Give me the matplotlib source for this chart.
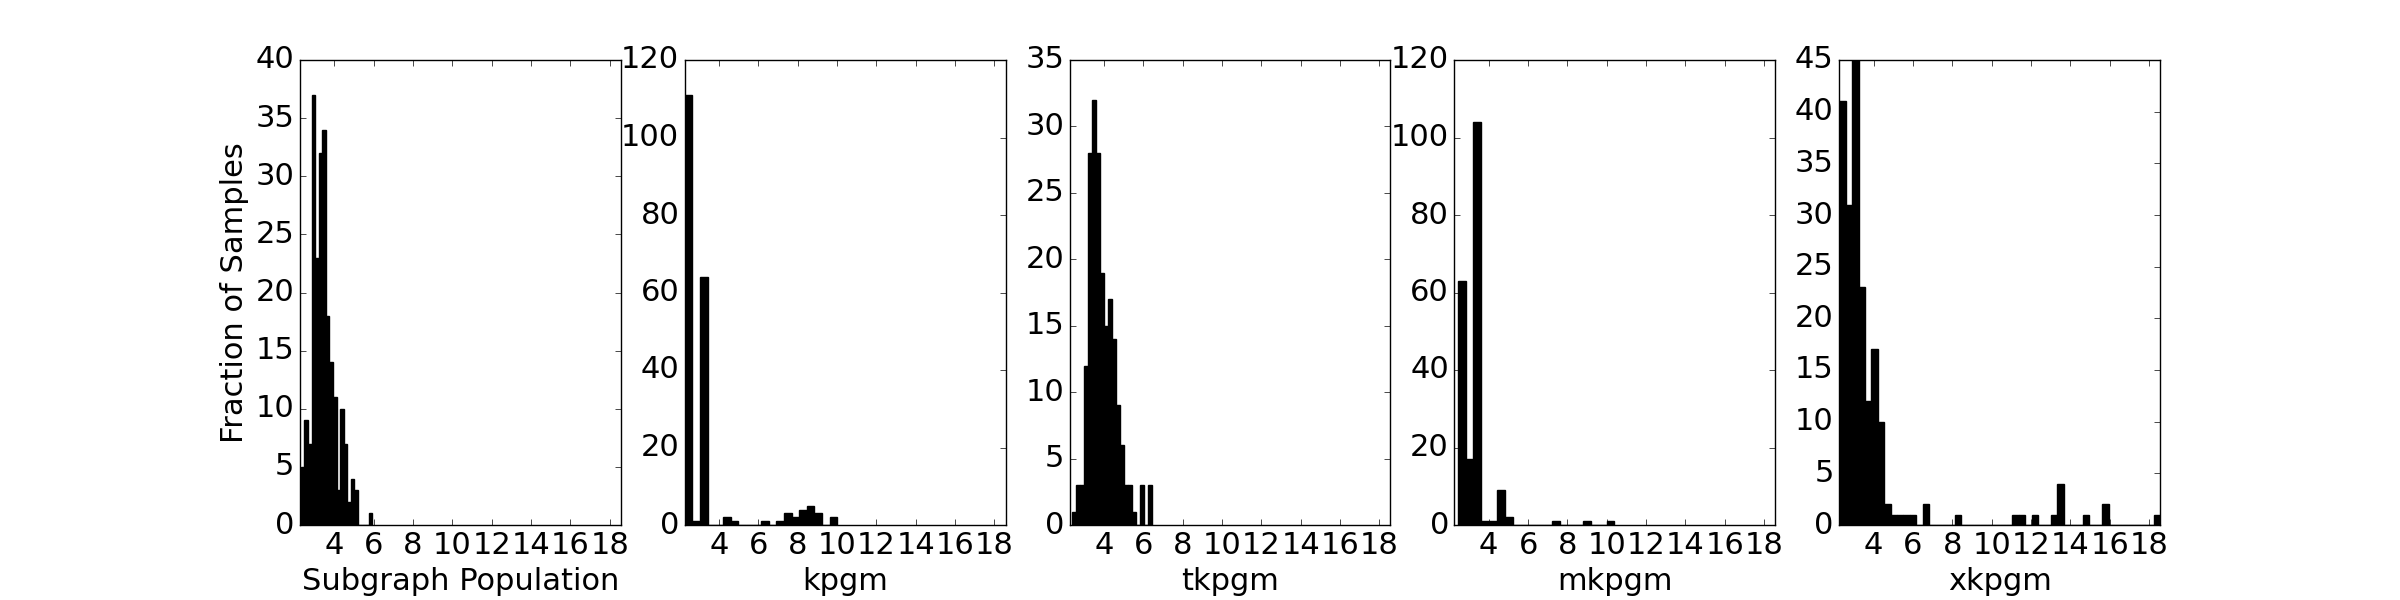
import numpy as np
import matplotlib
matplotlib.use("Agg")
import matplotlib.pyplot as plt

# x labels of the five panels
x_labels = ["Subgraph Population", "kpgm", "tkpgm", "mkpgm", "xkpgm"]

# histogram bins (left edge of first bin, bin width)
bin_start = [2.30, 2.26, 2.38, 2.43, 2.26]
bin_width = [0.182, 0.3875, 0.204, 0.398, 0.326]

# counts per bin
counts_subgraph = [5, 9, 7, 37, 23, 32, 34, 18, 14, 11, 3, 10, 7, 2, 4, 3, 0, 0, 0, 1]
counts_kpgm = [111, 1, 64, 0, 0, 2, 1, 0, 0, 0, 1, 0, 1, 3, 2, 4, 5, 3, 0, 2]
counts_tkpgm = [1, 3, 3, 12, 28, 32, 28, 19, 15, 17, 14, 9, 6, 3, 3, 1, 0, 3, 0, 3]
counts_mkpgm = [63, 17, 104, 1, 1, 9, 2, 0, 0, 0, 0, 0, 1, 0, 0, 0, 1, 0, 0, 1]
counts_xkpgm = [41, 31, 45, 23, 12, 17, 10, 2, 1, 1, 1, 1, 0, 2, 0, 0, 0, 0, 1, 0,
                0, 0, 0, 0, 0, 0, 0, 1, 1, 0, 1, 0, 0, 1, 4, 0, 0, 0, 1, 0,
                0, 2, 0, 0, 0, 0, 0, 0, 0, 1]
all_counts = [counts_subgraph, counts_kpgm, counts_tkpgm, counts_mkpgm, counts_xkpgm]

# axis ticks
y_max = [40, 120, 35, 120, 45]
y_step = [5, 20, 5, 20, 5]
x_ticks = [4, 6, 8, 10, 12, 14, 16, 18]

plt.style.use("classic")
plt.rcParams["figure.facecolor"] = "white"
plt.rcParams["font.size"] = 22

fig, axes = plt.subplots(1, 5, figsize=(24, 6), dpi=100, sharex=True)
fig.subplots_adjust(left=0.125, right=0.9, top=0.9, bottom=0.125, wspace=0.2)

for i, ax in enumerate(axes):
    counts = np.array(all_counts[i], dtype=float)
    edges = bin_start[i] + bin_width[i] * np.arange(len(counts) + 1)
    centers = (edges[:-1] + edges[1:]) / 2
    ax.hist(centers, bins=edges, weights=counts, color="k", edgecolor="k")
    ax.set_ylim(0, y_max[i])
    ax.set_yticks(np.arange(0, y_max[i] + 1, y_step[i]))
    ax.set_xticks(x_ticks)
    ax.set_xlabel(x_labels[i])

axes[0].set_ylabel("Fraction of Samples")

fig.savefig("out.png", dpi=100, facecolor="white")
